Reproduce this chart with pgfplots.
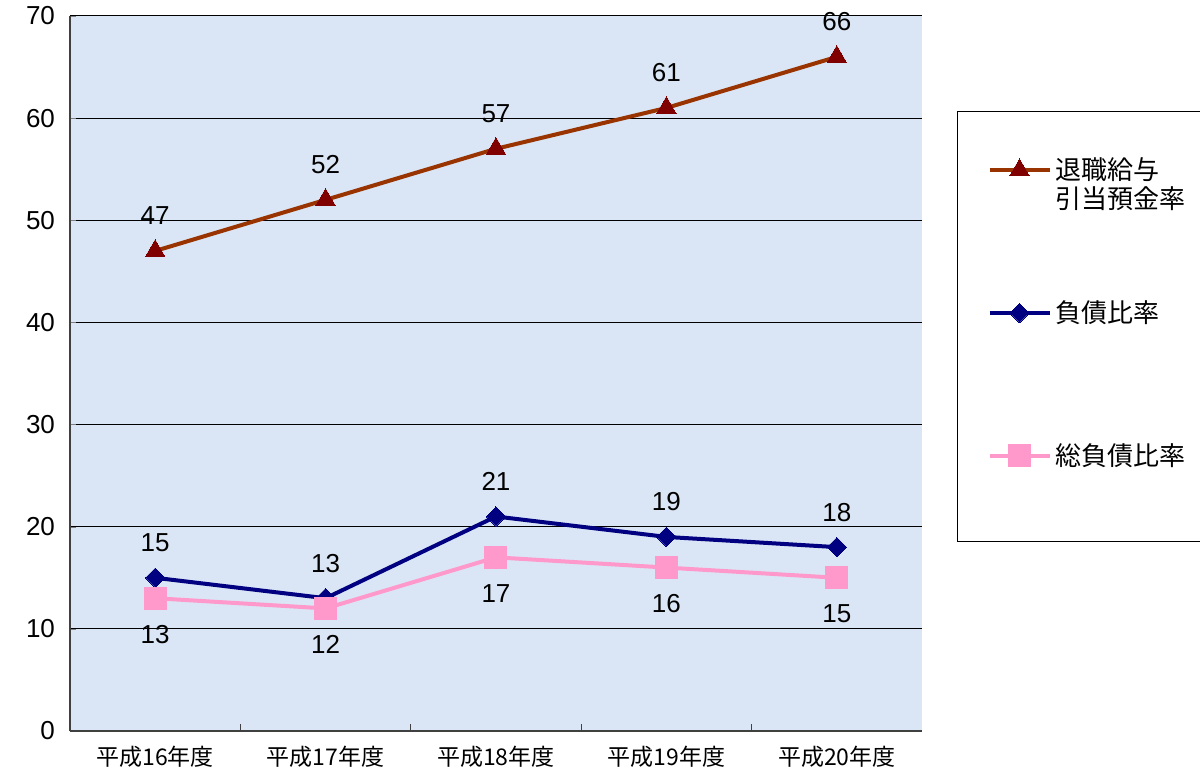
\documentclass[border=0pt]{standalone}
\usepackage{fontspec}
\setmainfont{Liberation Sans}
\newfontfamily\jp{Noto Sans CJK JP}
\usepackage{pgfplots}
\pgfplotsset{compat=1.18}

\definecolor{bgblue}{HTML}{DAE6F5}
\definecolor{brownline}{HTML}{993300}
\definecolor{brownmark}{HTML}{800000}
\definecolor{navy}{HTML}{000080}
\definecolor{pinkline}{HTML}{FF99CC}

\begin{document}
\begin{tikzpicture}
\path[use as bounding box] (0,0) rectangle (600pt,388pt);
\begin{axis}[
    at={(35pt,22.5pt)}, anchor=south west,
    scale only axis,
    width=426pt, height=357.5pt,
    xmin=-0.5, xmax=4.5,
    ymin=0, ymax=70,
    ytick={0,10,...,70},
    xtick={0,1,2,3,4},
    xticklabels={平成16年度,平成17年度,平成18年度,平成19年度,平成20年度},
    minor xtick={0.5,1.5,2.5,3.5},
    major x tick style={draw=none},
    minor tick style={draw=black!75, line width=0.6pt},
    minor tick length=3.5pt,
    major tick length=3pt,
    tick align=inside,
    axis x line*=bottom, axis y line*=left,
    axis line style={draw=black!75, line width=0.8pt, -},
    axis background/.style={fill=bgblue},
    ymajorgrids, grid style={black, line width=0.5pt},
    /pgf/number format/assume math mode=true,
    yticklabel style={font=\fontsize{13}{15}\selectfont, xshift=-4pt},
    xticklabel style={font=\jp\fontsize{11.5}{14}\selectfont, yshift=-4pt},
    nodes near coords,
    every node near coord/.append style={font=\fontsize{13}{15}\selectfont, anchor=center},
    legend cell align=left,
    legend style={at={(1.041,0.867)}, anchor=north west, draw=black, line width=0.6pt,
        font=\jp\fontsize{13}{14.5}\selectfont,
        inner xsep=15pt, inner ysep=21pt, row sep=55pt},
    legend image code/.code={
        \draw[mark repeat=2, mark phase=2] plot coordinates {(0pt,0pt)(15pt,0pt)(30pt,0pt)};
    },
]
\addplot[color=brownline, line width=2pt, mark=triangle*, mark size=5.6pt,
    mark options={fill=brownmark, draw=brownmark, line width=0pt},
    every node near coord/.append style={yshift=17.5pt, text=black}]
    coordinates {(0,47)(1,52)(2,57)(3,61)(4,66)};
\addlegendentry{\raisebox{0pt}[\height][0pt]{\vtop{\hbox{退職給与}\hbox{引当預金率}}}}
\addplot[color=navy, line width=2pt, mark=square*, mark size=3.4pt,
    mark options={rotate=45, fill=navy, draw=navy, line width=0pt},
    every node near coord/.append style={yshift=17.5pt, text=black}]
    coordinates {(0,15)(1,13)(2,21)(3,19)(4,18)};
\addlegendentry{負債比率}
\addplot[color=pinkline, line width=2pt, mark=square*, mark size=5.5pt,
    mark options={fill=pinkline, draw=pinkline, line width=0pt},
    every node near coord/.append style={yshift=-18pt, text=black},
    legend image code/.code={
        \draw[mark repeat=2, mark phase=2] plot coordinates {(0pt,0pt)(15pt,0pt)(30pt,0pt)};
        \path (0pt,-21pt);
    }]
    coordinates {(0,13)(1,12)(2,17)(3,16)(4,15)};
\addlegendentry{総負債比率\hspace{12pt}}
\end{axis}
\end{tikzpicture}
\end{document}
